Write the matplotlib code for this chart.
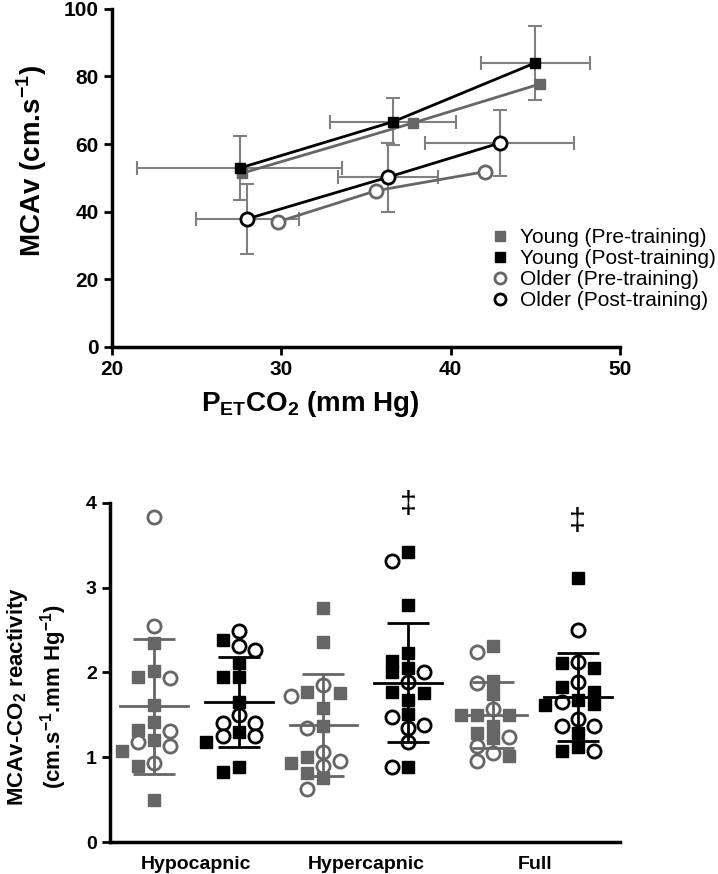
import matplotlib
matplotlib.use("Agg")
import matplotlib.pyplot as plt
from matplotlib.lines import Line2D

plt.rcParams['font.family'] = ['Liberation Sans', 'DejaVu Sans']
plt.rcParams['mathtext.fontset'] = 'custom'
plt.rcParams['mathtext.rm'] = 'Liberation Sans'
plt.rcParams['mathtext.bf'] = 'Liberation Sans:bold'

GREY = '#666666'
ERRC = '#808080'

# ---- top panel: MCAv vs PETCO2 (mean +/- SD) ----
young_pre_x = [27.7, 37.75, 45.3]
young_pre_y = [51.4, 66.2, 77.8]
young_post_x = [27.55, 36.6, 45.0]
young_post_y = [52.9, 66.6, 84.0]
young_post_xerr = [6.05, 3.7, 3.2]
young_post_yerr = [9.5, 6.9, 11.0]
older_pre_x = [29.8, 35.6, 42.0]
older_pre_y = [37.0, 46.2, 51.8]
older_post_x = [28.0, 36.3, 42.9]
older_post_y = [37.9, 50.2, 60.3]
older_post_xerr = [3.05, 2.95, 4.4]
older_post_yerr = [10.4, 10.2, 9.8]

# ---- bottom panel: reactivity per condition ----
conditions = ["Hypocapnic", "Hypercapnic", "Full"]
hypo_young_pre = [2.35, 2.02, 1.95, 1.62, 1.42, 1.32, 1.20, 1.07, 0.90, 0.50]
hypo_older_pre = [3.83, 2.55, 1.93, 1.31, 1.18, 1.13, 0.93]
hypo_young_post = [2.38, 2.11, 1.95, 1.95, 1.65, 1.30, 1.18, 0.88, 0.83]
hypo_older_post = [2.49, 2.31, 2.27, 1.50, 1.40, 1.40, 1.25, 1.25]
hyper_young_pre = [2.76, 2.36, 1.77, 1.76, 1.58, 1.37, 1.00, 0.93, 0.81, 0.75]
hyper_older_pre = [1.85, 1.72, 1.35, 1.06, 0.95, 0.90, 0.63]
hyper_young_post = [3.42, 2.79, 2.23, 2.14, 2.05, 2.00, 1.77, 1.76, 1.68, 1.51, 0.89]
hyper_older_post = [3.32, 2.00, 1.89, 1.47, 1.38, 1.35, 1.18, 0.89]
full_young_pre = [2.31, 1.90, 1.75, 1.50, 1.50, 1.50, 1.37, 1.29, 1.23, 1.02]
full_older_pre = [2.24, 1.87, 1.57, 1.24, 1.13, 1.05, 0.95]
full_young_post = [3.12, 2.11, 2.05, 1.83, 1.77, 1.68, 1.63, 1.62, 1.29, 1.12, 1.07]
full_older_post = [2.50, 2.12, 1.89, 1.65, 1.45, 1.37, 1.37, 1.07]
col_means = [1.60, 1.65, 1.38, 1.88, 1.50, 1.71]
col_sds = [0.80, 0.53, 0.60, 0.70, 0.39, 0.515]
signif_cols = [4, 6]
signif_y = [3.98, 3.77]

columns = [
    (hypo_young_pre, hypo_older_pre, GREY),
    (hypo_young_post, hypo_older_post, 'black'),
    (hyper_young_pre, hyper_older_pre, GREY),
    (hyper_young_post, hyper_older_post, 'black'),
    (full_young_pre, full_older_pre, GREY),
    (full_young_post, full_older_post, 'black'),
]


def swarm(values, center, step=0.19, gap=0.135):
    """simple beeswarm: shift a point sideways when it collides with one already placed"""
    placed = []
    xs = []
    for v in values:
        for k in [0, -1, 1, -2, 2]:
            if all(abs(v - pv) >= gap for pk, pv in placed if pk == k):
                break
        placed.append((k, v))
        xs.append(center + k * step)
    return xs


fig = plt.figure(figsize=(7.18, 8.74), dpi=100)

# top axes
ax1 = fig.add_axes([0.156, 0.603, 0.7075, 0.387])
ebkw = dict(fmt='none', ecolor=ERRC, elinewidth=1.5, capsize=5, capthick=1.5, zorder=1)
ax1.errorbar(young_post_x, young_post_y, xerr=young_post_xerr, yerr=young_post_yerr, **ebkw)
ax1.errorbar(older_post_x, older_post_y, xerr=older_post_xerr, yerr=older_post_yerr, **ebkw)
ax1.plot(young_pre_x, young_pre_y, color=GREY, lw=2, marker='s', ms=7.5, mec=GREY, zorder=3)
ax1.plot(young_post_x, young_post_y, color='black', lw=2, marker='s', ms=7.5, zorder=4)
ax1.plot(older_pre_x, older_pre_y, color=GREY, lw=2, marker='o', ms=9.5, mfc='white',
         mec=GREY, mew=2, zorder=3)
ax1.plot(older_post_x, older_post_y, color='black', lw=2, marker='o', ms=9.5, mfc='white',
         mec='black', mew=2, zorder=4)
ax1.set_xlim(20, 50)
ax1.set_ylim(0, 100)
ax1.set_xticks([20, 30, 40, 50])
ax1.set_yticks([0, 20, 40, 60, 80, 100])
ax1.set_ylabel(r"MCAv (cm.s$^{\mathbf{-1}}$)", fontsize=20, fontweight='bold')
ax1.set_xlabel(r"P$_{\mathbf{ET}}$CO$_{\mathbf{2}}$ (mm Hg)", fontsize=20, fontweight='bold')
ax1.yaxis.set_label_coords(-0.124, 0.55)
ax1.xaxis.set_label_coords(0.39, -0.125)

handles = [
    Line2D([], [], ls='none', marker='s', ms=7.5, color=GREY),
    Line2D([], [], ls='none', marker='s', ms=7.5, color='black'),
    Line2D([], [], ls='none', marker='o', ms=8, mfc='white', mec=GREY, mew=2),
    Line2D([], [], ls='none', marker='o', ms=8, mfc='white', mec='black', mew=2),
]
labels = ["Young (Pre-training)", "Young (Post-training)",
          "Older (Pre-training)", "Older (Post-training)"]
fig.legend(handles, labels, loc='upper left', bbox_to_anchor=(490 / 718, 1 - 228 / 874),
           frameon=False, fontsize=15, handlelength=1.0, handletextpad=0.45,
           labelspacing=0.1, borderpad=0, borderaxespad=0)

# bottom axes
ax2 = fig.add_axes([0.153, 0.0366, 0.7105, 0.388])
for i, (young, older, col) in enumerate(columns):
    pos = i + 1
    vals = [(v, 's') for v in young] + [(v, 'o') for v in older]
    vals.sort(key=lambda t: -t[0])
    xs = swarm([v for v, m in vals], pos)
    for (v, m), x in zip(vals, xs):
        if m == 's':
            ax2.plot(x, v, ls='none', marker='s', ms=8, color=col, zorder=2)
        else:
            ax2.plot(x, v, ls='none', marker='o', ms=9.5, mfc='white', mec=col, mew=2, zorder=3)
    m, s = col_means[i], col_sds[i]
    ax2.plot([pos - 0.4, pos + 0.4], [m, m], color=col, lw=2, zorder=4)
    ax2.errorbar([pos], [m], yerr=[s], fmt='none', ecolor=col, elinewidth=2,
                 capsize=15, capthick=2, zorder=4)

for pos, y in zip(signif_cols, signif_y):
    ax2.text(pos, y, "‡", ha='center', va='center', fontsize=22, clip_on=False)

ax2.set_xlim(0.48, 6.5)
ax2.set_ylim(0, 4)
ax2.set_yticks([0, 1, 2, 3, 4])
ax2.set_xticks([1.5, 3.5, 5.5])
ax2.set_xticklabels(conditions)
ax2.set_ylabel("MCAv-CO$_{\\mathbf{2}}$ reactivity\n(cm.s$^{\\mathbf{-1}}$.mm Hg$^{\\mathbf{-1}}$)",
               fontsize=16, fontweight='bold', linespacing=1.35)
ax2.yaxis.set_label_coords(-0.08, 0.43)

for ax in (ax1, ax2):
    for side in ('top', 'right'):
        ax.spines[side].set_visible(False)
    for side in ('left', 'bottom'):
        ax.spines[side].set_linewidth(2.5)
    ax.tick_params(axis='y', width=2, length=6, labelsize=14)
    ax.tick_params(axis='x', width=2, length=6)
    for lbl in ax.get_xticklabels() + ax.get_yticklabels():
        lbl.set_fontweight('bold')
ax1.tick_params(axis='both', labelsize=15)
ax2.tick_params(axis='x', length=0, pad=10, labelsize=14)

fig.savefig("out.png", dpi=100)
